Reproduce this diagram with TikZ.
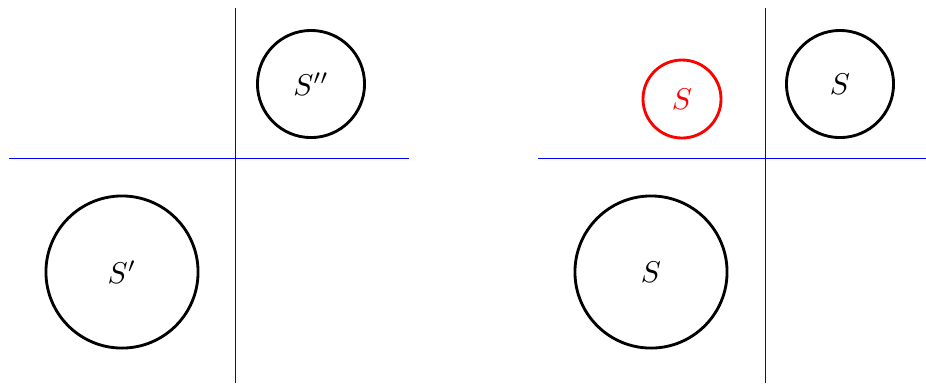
\documentclass[tikz,border=0pt]{standalone}
\usepackage{amsmath,amssymb}
\usepackage{tikz}
\usetikzlibrary{positioning}
\usepackage{xcolor}

\begin{document}
\begin{tikzpicture}[x=0.3333pt,y=-0.3333pt,
  ball/.style={circle,draw,line width=0.95pt,inner sep=0pt},
  axis/.style={blue,line width=0.3pt}]
\useasboundingbox (0,0) rectangle (926,383);
% left picture
\coordinate (lW) at (9,158);
\coordinate (lE) at (409,158);
\coordinate (lN) at (235,8);
\coordinate (lS) at (235,383);
\draw[axis] (lW) -- (lE);
\draw[axis] (lN) -- (lS);
\node[ball,minimum size=35.7pt] (sdd) at (311,84) {$S''$};
\node[ball,minimum size=50.7pt] (sd) at (122,272) {$S'$};
% right picture
\coordinate (rW) at (538,158);
\coordinate (rE) at (926,158);
\coordinate (rN) at (765,8);
\coordinate (rS) at (765,383);
\draw[axis] (rW) -- (rE);
\draw[axis] (rN) -- (rS);
\node[ball,red,minimum size=26pt] (sred) at (682,99) {$S$};
\node[ball,minimum size=35.7pt] (stop) at (840,84) {$S$};
\node[ball,minimum size=50.7pt] (sbig) at (651,272) {$S$};
\end{tikzpicture}
\end{document}
